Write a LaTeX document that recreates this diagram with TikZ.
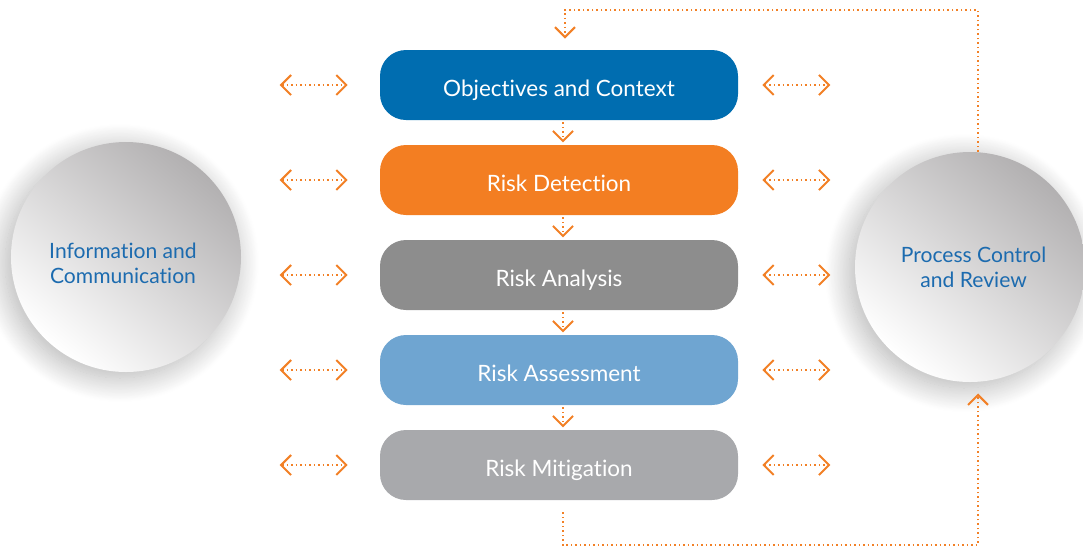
\documentclass[tikz,border=0pt]{standalone}
\usepackage{fontspec}
\setmainfont{Lato}[Ligatures={NoCommon}]
\usetikzlibrary{arrows.meta,shadows.blur}
\definecolor{ctxblue}{HTML}{006DB0}
\definecolor{detorange}{HTML}{F37E22}
\definecolor{anagray}{HTML}{8D8D8D}
\definecolor{asslblue}{HTML}{6FA5D1}
\definecolor{mitgray}{HTML}{A8A9AC}
\definecolor{arrorange}{HTML}{F28026}
\definecolor{circtext}{HTML}{1C6BAF}
\definecolor{circgray}{HTML}{B2B0B1}
\begin{document}
\begin{tikzpicture}[x=0.25mm, y=-0.25mm,
  stepbox/.style={rounded corners=6.5mm, minimum width=89.5mm, minimum height=17.5mm,
    text=white, font=\fontsize{16}{19}\selectfont, text height=5.5mm, text depth=0pt},
  bubble/.style={circle, minimum size=57.5mm, inner sep=0pt, shading=axis,
    top color=circgray, bottom color=white, shading angle=-40,
    blur shadow={shadow xshift=-1.5mm, shadow yshift=-1.5mm, shadow blur radius=6mm,
      shadow blur steps=30, shadow opacity=30}},
  bubbletext/.style={align=center, text=circtext, font=\fontsize{15}{17.8}\selectfont},
  chev/.tip={Straight Barb[length=2.5mm, width=5mm, line width=1.4pt]},
  flow/.style={arrorange, line width=1.2pt, dotted, -chev},
  both/.style={flow, chev-chev}]
\useasboundingbox (0,0) rectangle (1083,548);

% steps
\node[stepbox, fill=ctxblue] (ctx) at (559,85) {Objectives and Context};
\node[stepbox, fill=detorange] (det) at (559,180) {Risk Detection};
\node[stepbox, fill=anagray] (ana) at (559,275) {Risk Analysis};
\node[stepbox, fill=asslblue] (ass) at (559,370) {Risk Assessment};
\node[stepbox, fill=mitgray] (mit) at (559,465) {Risk Mitigation};

% circles
\node[bubble, label={[bubbletext, xshift=-0.75mm, yshift=-1.5mm]center:Information and\\Communication}] (info) at (126,257) {};
\node[bubble, label={[bubbletext, xshift=0.9mm]center:Process Control\\and Review}] (rev) at (970,267) {};

\foreach \a/\b in {ctx/det, det/ana, ana/ass, ass/mit}
  \draw[flow, shorten <=0.5mm, shorten >=0.6mm] ([xshift=1mm]\a.south) -- ([xshift=1mm]\b.north);

\foreach \b in {ctx,det,ana,ass,mit} {
  \draw[both] ([xshift=-25mm]\b.west) -- ([xshift=-8mm]\b.west);
  \draw[both] ([xshift=6mm]\b.east) -- ([xshift=23mm]\b.east);
}

% feedback loop
\coordinate (top) at (978,10);
\coordinate (bot) at (978,545);
\draw[flow, shorten <=3mm, shorten >=2.8mm] ([xshift=1mm]mit.south) |- (bot) -- (bot |- rev.south);
\draw[flow, shorten >=2.8mm] (top |- rev.north) -- (top) -| ([xshift=1.5mm]ctx.north);
\end{tikzpicture}
\end{document}
